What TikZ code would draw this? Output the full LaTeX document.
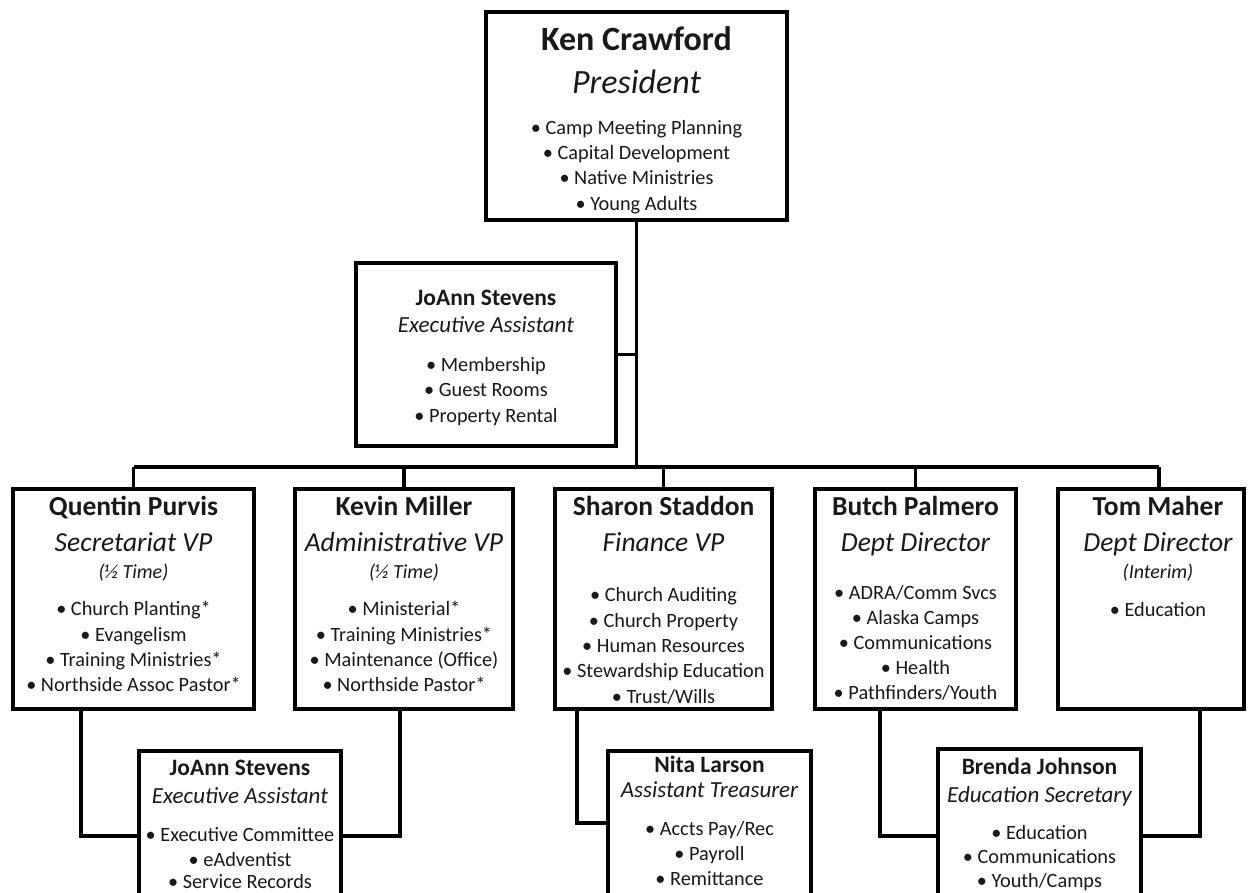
\documentclass[tikz,border=0pt]{standalone}
\usepackage{fontspec}
\setmainfont{Carlito}
\usetikzlibrary{calc}
\newcommand\fs[1]{\fontsize{#1}{#1}\selectfont}
\newcommand\tl[5]{\node[#4] (#1) at (#2,#3) {#5};}
\begin{document}
\begin{tikzpicture}[x=1pt,y=-1pt,
  card/.style={draw=black,line width=3.2pt,fill=white,inner sep=0pt,outer sep=0pt},
  conn/.style={draw=black,line width=3.2pt},
  txt/.style={inner sep=0pt,anchor=base,text=black!90},
  bignm/.style={txt,font=\fs{34}\bfseries},
  bigrl/.style={txt,font=\fs{34}\itshape},
  mnm/.style={txt,font=\fs{27.5}\bfseries},
  mrl/.style={txt,font=\fs{27.5}\itshape},
  snm/.style={txt,font=\fs{23.5}\bfseries},
  srl/.style={txt,font=\fs{23}\itshape},
  half/.style={txt,font=\fs{20}\itshape},
  bul/.style={txt,font=\fs{20.3}}]
\useasboundingbox (0,0) rectangle (1251,893);
\clip (0,0) rectangle (1251,893);
\fill[white] (0,0) rectangle (1251,893);

% boxes
\node[card,minimum width=301pt,minimum height=208pt] (pres) at (636.5,116) {};
\node[card,minimum width=260pt,minimum height=183pt] (ea1) at (486,354.5) {};
\node[card,minimum width=241pt,minimum height=220pt] (qp) at (133.5,599) {};
\node[card,minimum width=218pt,minimum height=220pt] (km) at (404,599) {};
\node[card,minimum width=217pt,minimum height=220pt] (ss) at (663.5,599) {};
\node[card,minimum width=201pt,minimum height=220pt] (bp) at (915.5,599) {};
\node[card,minimum width=186pt,minimum height=220pt] (tm) at (1151,599) {};
\node[card,minimum width=202pt,minimum height=159pt] (ea2) at (240,830.5) {};
\node[card,minimum width=203pt,minimum height=159pt] (nl) at (709.5,830.5) {};
\node[card,minimum width=203pt,minimum height=161pt] (bj) at (1039.5,829.5) {};

% connectors
\coordinate (bus) at (0,467);
\coordinate (tmtop) at (1159,489);
\coordinate (qpd) at (81,709);
\coordinate (kmd) at (400,709);
\coordinate (ssd) at (577,709);
\coordinate (bpd) at (880,709);
\coordinate (tmd) at (1200,709);
\draw[conn] (pres.south) -- (pres.south |- bus);
\draw[conn] (ea1.east) -- (ea1.east -| pres.south);
\draw[conn] (qp.north |- bus) -- (tmtop |- bus);
\foreach \b in {qp,km,ss,bp} \draw[conn] (\b.north) -- (\b.north |- bus);
\draw[conn] (tmtop) -- (tmtop |- bus);
\draw[conn] (qpd) |- ([yshift=-5.5pt]ea2.west);
\draw[conn] (kmd) |- ([yshift=-5.5pt]ea2.east);
\draw[conn] (ssd) |- ([yshift=7.5pt]nl.west);
\draw[conn] (bpd) |- ([yshift=-6.5pt]bj.west);
\draw[conn] (tmd) |- ([yshift=-6.5pt]bj.east);

% President
\tl{p1}{636.5}{51}{bignm}{Ken Crawford}
\tl{p2}{636.5}{94}{bigrl}{President}
\tl{p3}{636.5}{134.5}{bul}{• Camp Meeting Planning}
\tl{p4}{636.5}{159.5}{bul}{• Capital Development}
\tl{p5}{636.5}{185}{bul}{• Native Ministries}
\tl{p6}{636.5}{210.5}{bul}{• Young Adults}

% JoAnn (top)
\tl{a1}{486}{305.5}{snm}{JoAnn Stevens}
\tl{a2}{486}{333}{srl}{Executive Assistant}
\tl{a3}{486}{371.5}{bul}{• Membership}
\tl{a4}{486}{396.5}{bul}{• Guest Rooms}
\tl{a5}{486}{422}{bul}{• Property Rental}

% Quentin
\tl{q1}{133.5}{515}{mnm}{Quentin Purvis}
\tl{q2}{133.5}{551}{mrl}{Secretariat VP}
\tl{q3}{133.5}{578.5}{half}{(½ Time)}
\tl{q4}{133.5}{615.5}{bul}{• Church Planting*}
\tl{q5}{133.5}{641.5}{bul}{• Evangelism}
\tl{q6}{133.5}{666.5}{bul}{• Training Ministries*}
\tl{q7}{133.5}{691.5}{bul}{• Northside Assoc Pastor*}

% Kevin
\tl{k1}{404}{515}{mnm}{Kevin Miller}
\tl{k2}{404}{551}{mrl}{Administrative VP}
\tl{k3}{404}{578.5}{half}{(½ Time)}
\tl{k4}{404}{615.5}{bul}{• Ministerial*}
\tl{k5}{404}{641.5}{bul}{• Training Ministries*}
\tl{k6}{404}{666.5}{bul}{• Maintenance (Office)}
\tl{k7}{404}{691.5}{bul}{• Northside Pastor*}

% Sharon
\tl{s1}{663.5}{515}{mnm}{Sharon Staddon}
\tl{s2}{663.5}{551}{mrl}{Finance VP}
\tl{s3}{663.5}{601.5}{bul}{• Church Auditing}
\tl{s4}{663.5}{627.5}{bul}{• Church Property}
\tl{s5}{663.5}{652.5}{bul}{• Human Resources}
\tl{s6}{663.5}{677.5}{bul}{• Stewardship Education}
\tl{s7}{663.5}{703}{bul}{• Trust/Wills}

% Butch
\tl{b1}{915.5}{515}{mnm}{Butch Palmero}
\tl{b2}{915.5}{551}{mrl}{Dept Director}
\tl{b3}{915.5}{599.5}{bul}{• ADRA/Comm Svcs}
\tl{b4}{915.5}{624.5}{bul}{• Alaska Camps}
\tl{b5}{915.5}{649.5}{bul}{• Communications}
\tl{b6}{915.5}{674.5}{bul}{• Health}
\tl{b7}{915.5}{699.5}{bul}{• Pathfinders/Youth}

% Tom
\tl{t1}{1158}{515}{mnm}{Tom Maher}
\tl{t2}{1158}{551}{mrl}{Dept Director}
\tl{t3}{1158}{578.5}{half}{(Interim)}
\tl{t4}{1158}{616.5}{bul}{• Education}

% JoAnn (bottom)
\tl{e1}{240}{775}{snm}{JoAnn Stevens}
\tl{e2}{240}{803.5}{srl}{Executive Assistant}
\tl{e3}{240}{841.5}{bul}{• Executive Committee}
\tl{e4}{240}{866}{bul}{• eAdventist}
\tl{e5}{240}{888.5}{bul}{• Service Records}

% Nita
\tl{n1}{709.5}{772.5}{snm}{Nita Larson}
\tl{n2}{709.5}{797.5}{srl}{Assistant Treasurer}
\tl{n3}{709.5}{835.5}{bul}{• Accts Pay/Rec}
\tl{n4}{709.5}{860.5}{bul}{• Payroll}
\tl{n5}{709.5}{885.5}{bul}{• Remittance}

% Brenda
\tl{j1}{1039.5}{774.5}{snm}{Brenda Johnson}
\tl{j2}{1039.5}{802.5}{srl}{Education Secretary}
\tl{j3}{1039.5}{839}{bul}{• Education}
\tl{j4}{1039.5}{863.5}{bul}{• Communications}
\tl{j5}{1039.5}{887.5}{bul}{• Youth/Camps}
\end{tikzpicture}
\end{document}
